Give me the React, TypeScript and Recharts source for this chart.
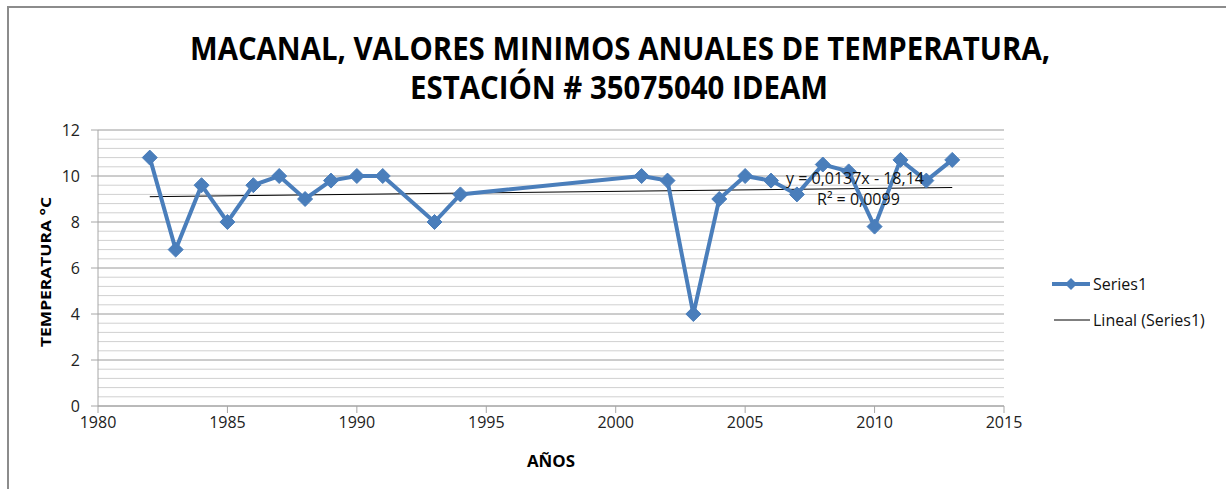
import { LineChart, Line, XAxis, YAxis, CartesianGrid, ReferenceLine } from "recharts"

// minimum annual temperature, station 35075040
const years = [1982, 1983, 1984, 1985, 1986, 1987, 1988, 1989, 1990, 1991, 1993, 1994, 2001, 2002, 2003, 2004, 2005, 2006, 2007, 2008, 2009, 2010, 2011, 2012, 2013]
const tempMin = [10.8, 6.8, 9.6, 8.0, 9.6, 10.0, 9.0, 9.8, 10.0, 10.0, 8.0, 9.2, 10.0, 9.8, 4.0, 9.0, 10.0, 9.8, 9.2, 10.5, 10.2, 7.8, 10.7, 9.8, 10.7]

// linear trend, endpoints as drawn
const trendYears = [1982, 2013]
const trendValues = [9.1, 9.5]

const xTicks = [1980, 1985, 1990, 1995, 2000, 2005, 2010, 2015]
const yTicks = [0, 2, 4, 6, 8, 10, 12]
const yMinorTicks = [0.4, 0.8, 1.2, 1.6, 2.4, 2.8, 3.2, 3.6, 4.4, 4.8, 5.2, 5.6, 6.4, 6.8, 7.2, 7.6, 8.4, 8.8, 9.2, 9.6, 10.4, 10.8, 11.2, 11.6]

const seriesData = years.map((y, i) => ({ year: y, value: tempMin[i] }))
const trendData = trendYears.map((y, i) => ({ year: y, trend: trendValues[i] }))

const BLUE = "#4a7ebb"
const FONT = "'Open Sans', 'Liberation Sans', sans-serif"

const Diamond = (props: any) => {
  const { cx, cy } = props
  if (cx == null || cy == null) return null
  const r = 7.5
  return <polygon points={`${cx},${cy - r} ${cx + r},${cy} ${cx},${cy + r} ${cx - r},${cy}`} fill={BLUE} stroke={BLUE} strokeWidth={1} />
}

export default function App() {
  return (
    <div style={{ position: "absolute", left: 0, top: 0, width: 1226, height: 489, background: "#fff", fontFamily: FONT }}>
      <div style={{ position: "absolute", left: 7, top: 6, right: 0, bottom: 0, borderLeft: "2px solid #8c8c8c", borderTop: "2px solid #8c8c8c" }} />

      <svg style={{ position: "absolute", left: 0, top: 0 }} width={1226} height={120}>
        <text x={190} y={60} textLength={860} lengthAdjust="spacingAndGlyphs" fontFamily={FONT} fontWeight={700} fontSize={32} fill="#000">
          MACANAL, VALORES MINIMOS ANUALES DE TEMPERATURA,
        </text>
        <text x={410} y={99} textLength={418} lengthAdjust="spacingAndGlyphs" fontFamily={FONT} fontWeight={700} fontSize={32} fill="#000">
          ESTACIÓN # 35075040 IDEAM
        </text>
      </svg>

      <LineChart width={1226} height={489} margin={{ top: 130, right: 222, bottom: 53, left: 38 }} style={{ position: "absolute", left: 0, top: 0 }}>
        <CartesianGrid vertical={false} stroke="#9a9a9a" horizontalValues={yTicks} />
        {yMinorTicks.map((v) => (
          <ReferenceLine key={v} y={v} stroke="#d0d0d0" strokeWidth={1} />
        ))}
        <XAxis
          type="number"
          dataKey="year"
          domain={[1980, 2015]}
          ticks={xTicks}
          allowDataOverflow
          stroke="#a6a6a6"
          tickSize={7}
          tickMargin={4}
          height={30}
          tick={{ fill: "#222", fontSize: 16, fontFamily: FONT }}
        />
        <YAxis
          type="number"
          domain={[0, 12]}
          ticks={yTicks}
          width={60}
          stroke="#a6a6a6"
          tickSize={7}
          tickMargin={11}
          tick={{ fill: "#222", fontSize: 16, fontFamily: FONT }}
        />
        <Line data={trendData} dataKey="trend" stroke="#000" strokeWidth={1} dot={false} isAnimationActive={false} />
        <Line data={seriesData} dataKey="value" stroke={BLUE} strokeWidth={4} dot={<Diamond />} activeDot={false} isAnimationActive={false} />
      </LineChart>

      <div style={{ position: "absolute", left: 786, top: 167, fontSize: 16, color: "#111", whiteSpace: "nowrap" }}>y = 0,0137x - 18,14</div>
      <div style={{ position: "absolute", left: 817, top: 188, fontSize: 16, color: "#111", whiteSpace: "nowrap" }}>R² = 0,0099</div>

      <svg style={{ position: "absolute", left: 0, top: 120 }} width={90} height={300}>
        <text
          transform="translate(51, 152) rotate(-90)"
          x={0}
          y={0}
          textAnchor="middle"
          fontFamily={FONT}
          fontWeight={700}
          fontSize={15}
          fill="#000"
          textLength={150}
          lengthAdjust="spacingAndGlyphs"
        >
          TEMPERATURA °C
        </text>
      </svg>
      <svg style={{ position: "absolute", left: 500, top: 445 }} width={110} height={30}>
        <text x={27} y={22} fontFamily={FONT} fontWeight={700} fontSize={16} fill="#000" textLength={48} lengthAdjust="spacingAndGlyphs">
          AÑOS
        </text>
      </svg>

      <svg style={{ position: "absolute", left: 1040, top: 268 }} width={186} height={70}>
        <line x1={12} y1={16} x2={50} y2={16} stroke={BLUE} strokeWidth={4} />
        <polygon points="31,10 37,16 31,22 25,16" fill={BLUE} />
        <text x={53} y={22} fontFamily={FONT} fontSize={16} fill="#111">Series1</text>
        <line x1={14} y1={52} x2={50} y2={52} stroke="#000" strokeWidth={1} />
        <text x={53} y={58} fontFamily={FONT} fontSize={16} fill="#111">Lineal (Series1)</text>
      </svg>
    </div>
  )
}
